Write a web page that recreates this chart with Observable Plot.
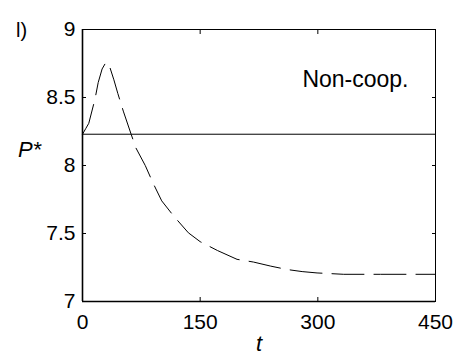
<!DOCTYPE html>
<html>
<head>
<meta charset="utf-8">
<script src="https://cdn.jsdelivr.net/npm/d3@7"></script>
<script src="https://cdn.jsdelivr.net/npm/@observablehq/plot@0.6"></script>
<style>
  html, body { margin: 0; padding: 0; background: #fff; }
  #chart { width: 465px; height: 356px; }
  svg { font-family: "Liberation Sans", Arial, sans-serif; }
</style>
</head>
<body>
<div id="chart"></div>
<script>
// Data
const tValues = [0, 4, 8, 16, 20, 25, 30, 35, 40, 45, 52, 62, 68, 80, 90, 101, 116, 135, 150, 172, 197, 218, 240, 261, 280, 299, 333, 380, 450];
const pValues = [8.23, 8.27, 8.31, 8.49, 8.61, 8.71, 8.76, 8.72, 8.63, 8.53, 8.40, 8.23, 8.13, 8.00, 7.87, 7.74, 7.63, 7.505, 7.44, 7.375, 7.31, 7.29, 7.26, 7.235, 7.22, 7.21, 7.20, 7.20, 7.20];
const referenceLevel = [8.23];
const xTicks = [0, 150, 300, 450];
const yTicks = [7, 7.5, 8, 8.5, 9];
const yTickLabels = ["7", "7.5", "8", "8.5", "9"];
const panelLabel = "l)";
const seriesLabel = "Non-coop.";
const xLabel = "t";
const yLabel = "P*";

const series = tValues.map((t, i) => ({t, p: pValues[i]}));

const plot = Plot.plot({
  width: 465,
  height: 356,
  marginLeft: 82,
  marginRight: 30,
  marginTop: 29,
  marginBottom: 55,
  style: {fontFamily: '"Liberation Sans", Arial, sans-serif', background: "#fff", color: "#000", overflow: "visible"},
  x: {domain: [0, 450], label: null},
  y: {domain: [7, 9], label: null},
  marks: [
    Plot.frame({stroke: "#000", strokeWidth: 1}),
    Plot.ruleX([0], {stroke: "#000", strokeWidth: 1.6}),
    Plot.ruleY([7], {stroke: "#000", strokeWidth: 1.6}),
    // inward ticks on all four sides
    Plot.axisX(xTicks, {anchor: "bottom", tickSize: 4, dy: -4, text: null, label: null, stroke: "#000"}),
    Plot.axisX(xTicks, {anchor: "top", tickSize: 4, dy: 4, text: null, label: null, stroke: "#000"}),
    Plot.axisY(yTicks, {anchor: "left", tickSize: 4, dx: 4, text: null, label: null, stroke: "#000"}),
    Plot.axisY(yTicks, {anchor: "right", tickSize: 4, dx: -4, text: null, label: null, stroke: "#000"}),
    // tick labels
    Plot.axisX(xTicks, {anchor: "bottom", tickSize: 0, tickPadding: 13, fontSize: 21, label: null, tickFormat: d => String(d)}),
    Plot.axisY(yTicks, {anchor: "left", tickSize: 0, tickPadding: 7, fontSize: 21, label: null, tickFormat: d => yTickLabels[yTicks.indexOf(d)]}),
    // reference line
    Plot.ruleY(referenceLevel, {stroke: "#000", strokeWidth: 1}),
    // dashed series
    Plot.line(series, {x: "t", y: "p", stroke: "#000", strokeWidth: 1, strokeDasharray: "32,10"}),
    // texts
    Plot.text([seriesLabel], {frameAnchor: "top-right", dx: -27, dy: 50, textAnchor: "end", lineAnchor: "middle", fontSize: 23, text: d => d}),
    Plot.text([panelLabel], {frameAnchor: "top-left", dx: -61, dy: 1, textAnchor: "middle", lineAnchor: "middle", fontSize: 20, text: d => d}),
    Plot.text([yLabel], {frameAnchor: "left", dx: -53, dy: -16, textAnchor: "middle", lineAnchor: "middle", fontSize: 22, fontStyle: "italic", text: d => d}),
    Plot.text([xLabel], {frameAnchor: "bottom", dy: 42, textAnchor: "middle", lineAnchor: "middle", fontSize: 22, fontStyle: "italic", text: d => d})
  ]
});
document.getElementById("chart").appendChild(plot);
</script>
</body>
</html>
